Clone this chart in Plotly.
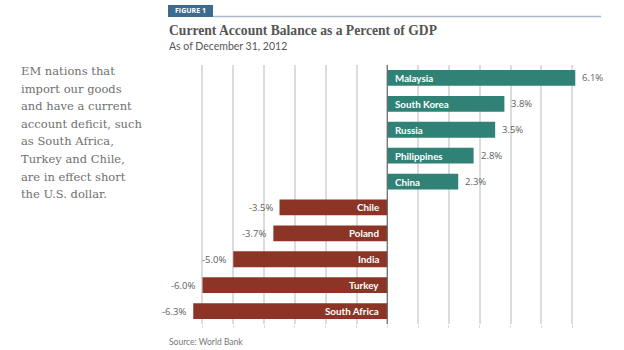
import plotly.graph_objects as go

countries = ["Malaysia", "South Korea", "Russia", "Philippines", "China",
             "Chile", "Poland", "India", "Turkey", "South Africa"]
values = [6.1, 3.8, 3.5, 2.8, 2.3, -3.5, -3.7, -5.0, -6.0, -6.3]
grid_ticks = [-6, -5, -4, -3, -2, -1, 0, 1, 2, 3, 4, 5, 6]
side_lines = ["EM nations that", "import our goods", "and have a current",
              "account deficit, such", "as South Africa,", "Turkey and Chile,",
              "are in effect short", "the U.S. dollar."]

TEAL = "#2f8275"
BROWN = "#8c3527"
colors = [TEAL if v >= 0 else BROWN for v in values]

fig = go.Figure()
fig.add_trace(go.Bar(
    x=values, y=countries, orientation="h",
    marker=dict(color=colors, line=dict(width=0)),
    hoverinfo="skip", showlegend=False,
))

anns = []
for c, v in zip(countries, values):
    pos = v >= 0
    anns.append(dict(x=0, y=c, xref="x", yref="y", text="<b>%s</b>" % c,
                     showarrow=False, xanchor="left" if pos else "right",
                     xshift=6 if pos else -6,
                     font=dict(family="Lato", size=9.8, color="white")))
    anns.append(dict(x=v, y=c, xref="x", yref="y", text="%.1f%%" % v,
                     showarrow=False, xanchor="left" if pos else "right",
                     xshift=5 if pos else -5,
                     font=dict(family="Open Sans", size=9.5, color="#5e5e5e")))

# header elements (pixel positions, converted below)
anns.append(dict(x=190.5, y=11, xref="paper", yref="paper", text="<b>FIGURE 1</b>",
                 showarrow=False, xanchor="center",
                 font=dict(family="Open Sans", size=7, color="white")))
anns.append(dict(x=167, y=30, xref="paper", yref="paper",
                 text="<b>Current Account Balance as a Percent of GDP</b>", showarrow=False,
                 xanchor="left", font=dict(family="Liberation Serif", size=13.6, color="#555555")))
anns.append(dict(x=167, y=46, xref="paper", yref="paper",
                 text="As of December 31, 2012", showarrow=False,
                 xanchor="left", font=dict(family="Lato", size=10.5, color="#555555")))
anns.append(dict(x=167, y=342, xref="paper", yref="paper",
                 text="Source: World Bank", showarrow=False,
                 xanchor="left", font=dict(family="Lato", size=8.5, color="#777777")))
for i, line in enumerate(side_lines):
    anns.append(dict(x=19, y=71 + i * 17.6, xref="paper", yref="paper",
                     text=line, showarrow=False, xanchor="left",
                     font=dict(family="DejaVu Serif", size=11.5, color="#707070")))

W, H = 624, 350
L, R, T, B = 184, 21, 65, 26
pw, ph = W - L - R, H - T - B
for a in anns:
    if a["xref"] == "paper":
        a["x"] = (a["x"] - L) / pw
        a["y"] = 1 - (a["y"] - T) / ph
        a["yanchor"] = "middle"

shapes = [
    dict(type="rect", xref="paper", yref="paper",
         x0=(168 - L) / pw, x1=(213 - L) / pw,
         y0=1 - (5 - T) / ph, y1=1 - (17 - T) / ph,
         fillcolor="#3d6b8f", line=dict(width=0)),
    dict(type="line", xref="paper", yref="paper",
         x0=(213 - L) / pw, x1=(601 - L) / pw,
         y0=1 - (16.5 - T) / ph, y1=1 - (16.5 - T) / ph,
         line=dict(color="#a9b9c7", width=1.5)),
    dict(type="line", xref="x", yref="paper", x0=0, x1=0, y0=0, y1=1,
         line=dict(color="#666666", width=1)),
]

fig.update_layout(
    width=W, height=H,
    margin=dict(l=L, r=R, t=T, b=B),
    paper_bgcolor="white", plot_bgcolor="white",
    bargap=0.39,
    annotations=anns, shapes=shapes,
    xaxis=dict(range=[-6.6, 7.0], tickvals=grid_ticks, showticklabels=False,
               showgrid=True, gridcolor="#dcdcdc", gridwidth=1.5,
               zeroline=False, ticks="outside", ticklen=3, tickcolor="#dcdcdc",
               showline=False, fixedrange=True),
    yaxis=dict(categoryorder="array", categoryarray=countries[::-1],
               showticklabels=False, showgrid=False, zeroline=False,
               showline=False, fixedrange=True),
)

fig.write_html("out.html")
